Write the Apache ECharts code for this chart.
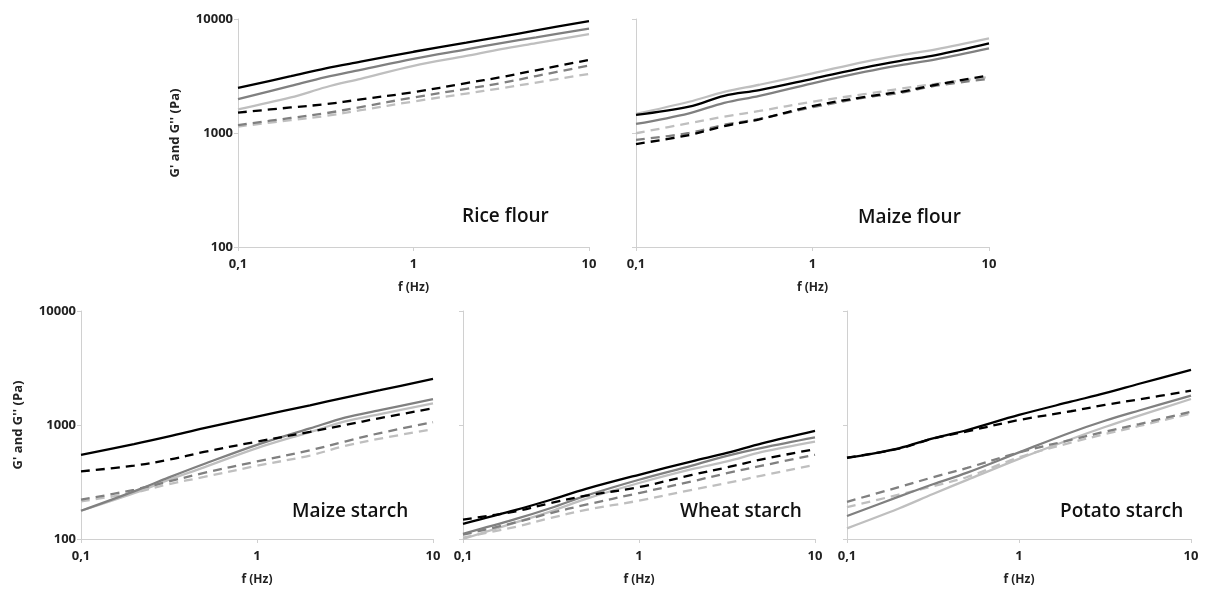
<!DOCTYPE html>
<html><head><meta charset="utf-8">
<script src="https://cdn.jsdelivr.net/npm/echarts@6/dist/echarts.min.js"></script>
<style>html,body{margin:0;padding:0;background:#fff}#c{width:1211px;height:592px}</style>
</head><body><div id="c"></div>
<script>
const FREQ = [0.1, 0.2, 0.316, 0.5, 1, 2, 3.16, 5, 10];
const X_TICKS = ['0,1', '1', '10'];
const Y_TICKS = ['100', '1000', '10000'];
const PANEL_TITLES = ['Rice flour', 'Maize flour', 'Maize starch', 'Wheat starch', 'Potato starch'];

const RICE_BLACK_G1 = [2490, 3150, 3690, 4220, 5160, 6200, 7000, 7940, 9600];
const RICE_DARK_G1  = [1980, 2590, 3090, 3580, 4480, 5420, 6150, 6910, 8220];
const RICE_LIGHT_G1 = [1610, 2050, 2520, 2990, 3880, 4750, 5450, 6150, 7380];
const RICE_BLACK_G2 = [1510, 1675, 1790, 1970, 2280, 2740, 3090, 3550, 4380];
const RICE_DARK_G2  = [1175, 1355, 1490, 1690, 2050, 2440, 2740, 3160, 3910];
const RICE_LIGHT_G2 = [1140, 1295, 1410, 1585, 1890, 2220, 2470, 2770, 3300];

const MAIZEF_BLACK_G1 = [1440, 1700, 2120, 2380, 2990, 3770, 4300, 4830, 6120];
const MAIZEF_DARK_G1  = [1200, 1490, 1840, 2120, 2730, 3450, 3940, 4430, 5530];
const MAIZEF_LIGHT_G1 = [1470, 1880, 2290, 2650, 3340, 4230, 4830, 5420, 6770];
const MAIZEF_BLACK_G2 = [800, 960, 1150, 1320, 1720, 2080, 2300, 2650, 3200];
const MAIZEF_DARK_G2  = [870, 1000, 1180, 1330, 1680, 2050, 2250, 2600, 2980];
const MAIZEF_LIGHT_G2 = [995, 1220, 1390, 1560, 1880, 2200, 2450, 2700, 3100];

const MAIZES_BLACK_G1 = [548, 679, 793, 938, 1187, 1490, 1740, 2020, 2535];
const MAIZES_DARK_G1  = [177, 262, 347, 455, 670, 933, 1163, 1350, 1690];
const MAIZES_LIGHT_G1 = [177, 252, 331, 425, 627, 867, 1074, 1245, 1550];
const MAIZES_BLACK_G2 = [392, 440, 496, 580, 715, 870, 1000, 1150, 1400];
const MAIZES_DARK_G2  = [221, 270, 320, 380, 479, 600, 716, 850, 1058];
const MAIZES_LIGHT_G2 = [214, 255, 303, 350, 439, 540, 656, 760, 918];

const WHEAT_BLACK_G1 = [136, 180, 221, 275, 366, 480, 569, 690, 889];
const WHEAT_DARK_G1  = [111, 150, 187, 240, 331, 440, 537, 630, 778];
const WHEAT_LIGHT_G1 = [100, 140, 175, 225, 310, 410, 479, 580, 716];
const WHEAT_BLACK_G2 = [148, 175, 207, 240, 285, 365, 425, 500, 614];
const WHEAT_DARK_G2  = [109, 140, 169, 200, 253, 320, 378, 440, 548];
const WHEAT_LIGHT_G2 = [103, 128, 153, 180, 217, 270, 310, 360, 448];

const POTATO_BLACK_G1 = [515, 625, 764, 904, 1225, 1600, 1900, 2300, 3050];
const POTATO_DARK_G1  = [159, 235, 302, 382, 575, 860, 1090, 1340, 1810];
const POTATO_LIGHT_G1 = [124, 185, 248, 330, 505, 750, 960, 1210, 1690];
const POTATO_BLACK_G2 = [517, 620, 760, 880, 1106, 1320, 1500, 1680, 2000];
const POTATO_DARK_G2  = [212, 285, 348, 420, 575, 740, 874, 1020, 1310];
const POTATO_LIGHT_G2 = [190, 245, 290, 350, 520, 700, 832, 980, 1262];

const PANELS = [
  [RICE_BLACK_G1, RICE_DARK_G1, RICE_LIGHT_G1, RICE_BLACK_G2, RICE_DARK_G2, RICE_LIGHT_G2],
  [MAIZEF_BLACK_G1, MAIZEF_DARK_G1, MAIZEF_LIGHT_G1, MAIZEF_BLACK_G2, MAIZEF_DARK_G2, MAIZEF_LIGHT_G2],
  [MAIZES_BLACK_G1, MAIZES_DARK_G1, MAIZES_LIGHT_G1, MAIZES_BLACK_G2, MAIZES_DARK_G2, MAIZES_LIGHT_G2],
  [WHEAT_BLACK_G1, WHEAT_DARK_G1, WHEAT_LIGHT_G1, WHEAT_BLACK_G2, WHEAT_DARK_G2, WHEAT_LIGHT_G2],
  [POTATO_BLACK_G1, POTATO_DARK_G1, POTATO_LIGHT_G1, POTATO_BLACK_G2, POTATO_DARK_G2, POTATO_LIGHT_G2]
];

const FONT = '"Open Sans", "Liberation Sans", sans-serif';
const COLORS = ['#000000', '#808080', '#bfbfbf'];
const GRIDS = [
  {left: 238, top: 19, width: 351, height: 228},
  {left: 636, top: 19, width: 353, height: 228},
  {left: 81, top: 311, width: 352, height: 228},
  {left: 463, top: 311, width: 352, height: 228},
  {left: 847, top: 311, width: 344, height: 228}
];
const TITLE_POS = [
  {left: 462, top: 207}, {left: 858, top: 208},
  {left: 292, top: 502}, {left: 680, top: 502}, {left: 1060, top: 502}
];
const SHOW_Y_LABELS = [true, false, true, false, false];

function xLabel(v) {
  const e = Math.round(Math.log10(v));
  return X_TICKS[e + 1] || '';
}
function yLabel(v) {
  const e = Math.round(Math.log10(v));
  return Y_TICKS[e - 2] || '';
}

const option = {
  animation: false,
  backgroundColor: '#ffffff',
  title: PANEL_TITLES.map((t, i) => ({
    text: t, left: TITLE_POS[i].left, top: TITLE_POS[i].top, padding: 0,
    textStyle: {fontFamily: FONT, fontSize: 19, fontWeight: 600, color: '#111'}
  })),
  grid: GRIDS.map(g => Object.assign({containLabel: false}, g)),
  xAxis: GRIDS.map((g, i) => ({
    type: 'log', logBase: 10, min: 0.1, max: 10, gridIndex: i,
    name: 'f (Hz)', nameLocation: 'middle', nameGap: 35,
    nameTextStyle: {fontFamily: FONT, fontSize: 12, fontWeight: 'bold', color: '#222'},
    axisLine: {lineStyle: {color: '#d0d0d0', width: 1}},
    axisTick: {show: true, length: 4, lineStyle: {color: '#d0d0d0'}},
    minorTick: {show: false},
    splitLine: {show: false},
    axisLabel: {formatter: xLabel, margin: 11, fontFamily: FONT, fontSize: 13, fontWeight: 'bold', color: '#222'}
  })),
  yAxis: GRIDS.map((g, i) => ({
    type: 'log', logBase: 10, min: 100, max: 10000, gridIndex: i,
    name: SHOW_Y_LABELS[i] ? "G' and G'' (Pa)" : '', nameLocation: 'middle', nameGap: 56,
    nameTextStyle: {fontFamily: FONT, fontSize: 13, fontWeight: 'bold', color: '#222'},
    axisLine: {show: true, lineStyle: {color: '#d0d0d0', width: 1}},
    axisTick: {show: true, length: 4, lineStyle: {color: '#d0d0d0'}},
    splitLine: {show: false},
    axisLabel: {show: SHOW_Y_LABELS[i], formatter: yLabel, margin: 5, fontFamily: FONT, fontSize: 13, fontWeight: 'bold', color: '#222'}
  })),
  series: []
};

const ORDER = [5, 4, 3, 2, 1, 0];
PANELS.forEach((panel, p) => {
  ORDER.forEach(k => {
    const vals = panel[k];
    const dashed = k >= 3;
    option.series.push({
      type: 'line', xAxisIndex: p, yAxisIndex: p,
      data: FREQ.map((f, j) => [f, vals[j]]),
      showSymbol: false, symbol: 'none', smooth: 0.35, clip: true,
      lineStyle: {color: COLORS[k % 3], width: 2.3, type: dashed ? [9, 6] : 'solid', cap: 'butt'},
      z: 10 - (k % 3)
    });
  });
});

const chart = echarts.init(document.getElementById('c'), null, {renderer: 'canvas'});
chart.setOption(option);
</script></body></html>
